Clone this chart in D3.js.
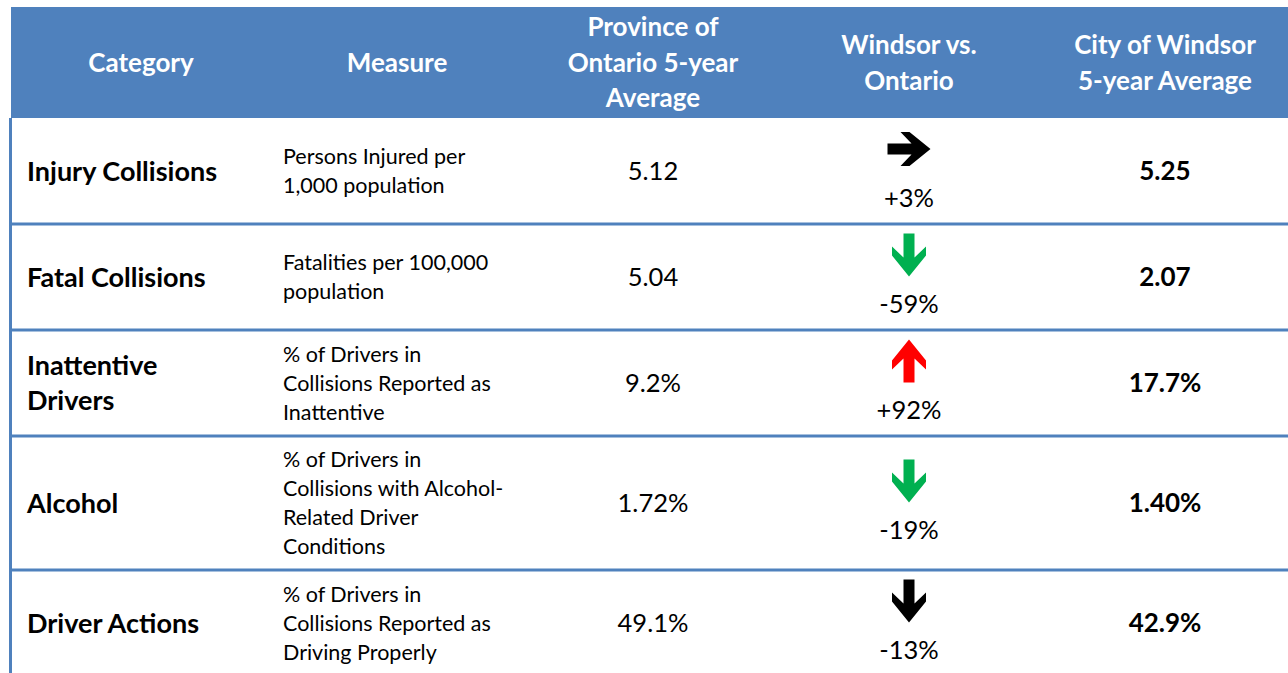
<!DOCTYPE html>
<html>
<head>
<meta charset="utf-8">
<script src="https://cdn.jsdelivr.net/npm/d3@7"></script>
<style>
  body { margin: 0; background: #fff; }
  svg { display: block; font-family: Lato, "Open Sans", sans-serif; }
</style>
</head>
<body>
<svg id="chart" width="1288" height="673"></svg>
<script>
// column headers (each entry = lines of the header cell)
var headers = [
	["Category"],
	["Measure"],
	["Province of", "Ontario 5-year", "Average"],
	["Windsor vs.", "Ontario"],
	["City of Windsor", "5-year Average"]
];

var categories = [
	["Injury Collisions"],
	["Fatal Collisions"],
	["Inattentive", "Drivers"],
	["Alcohol"],
	["Driver Actions"]
];

var measures = [
	["Persons Injured per", "1,000 population"],
	["Fatalities per 100,000", "population"],
	["% of Drivers in", "Collisions Reported as", "Inattentive"],
	["% of Drivers in", "Collisions with Alcohol-", "Related Driver", "Conditions"],
	["% of Drivers in", "Collisions Reported as", "Driving Properly"]
];

var provinceAvg = ["5.12", "5.04", "9.2%", "1.72%", "49.1%"];
var windsorAvg  = ["5.25", "2.07", "17.7%", "1.40%", "42.9%"];
var changes     = ["+3%", "-59%", "+92%", "-19%", "-13%"];
var directions  = ["right", "down", "up", "down", "down"];
var arrowColors = ["#000000", "#00b050", "#ff0000", "#00b050", "#000000"];

var blue = "#4f81bd";
var svg = d3.select("#chart");

var x = d3.scaleBand()
	.domain(d3.range(headers.length))
	.range([13, 1293]);

// row heights grow with the number of measure lines
var headTop = 7, headBottom = 118;
var rowTops = [], y0 = headBottom;
measures.forEach(function(m){
	var h = Math.max(106, m.length*29 + 18);
	rowTops.push({top: y0, h: h});
	y0 += h;
});

//header
svg.append("rect")
	.attr("x", 11)
	.attr("y", headTop)
	.attr("width", 1288 - 11)
	.attr("height", headBottom - headTop)
	.style("fill", blue);

var headMid = (headTop + headBottom)/2;
headers.forEach(function(lines, i){
	var t = svg.append("text")
		.attr("text-anchor", "middle")
		.style("fill", "#fff")
		.style("font-weight", "bold")
		.style("font-size", "26px");
	lines.forEach(function(l, j){
		t.append("tspan")
			.attr("x", x(i) + x.bandwidth()/2)
			.attr("y", headMid + (j - (lines.length-1)/2)*35.5)
			.attr("dy", "0.36em")
			.text(l);
	});
});

//left border + row separators
svg.append("rect")
	.attr("x", 9)
	.attr("y", headBottom)
	.attr("width", 3)
	.attr("height", 673 - headBottom)
	.style("fill", blue);

svg.selectAll(".sep")
	.data(rowTops.slice(1))
	.enter().append("rect")
	.attr("class", "sep")
	.attr("x", 9)
	.attr("y", function(d){ return d.top - 1.5; })
	.attr("width", 1288 - 9)
	.attr("height", 3)
	.style("fill", blue);

function multiLine(g, lines, xPos, cy, spacing, anchor){
	var t = g.append("text").attr("text-anchor", anchor);
	lines.forEach(function(l, j){
		t.append("tspan")
			.attr("x", xPos)
			.attr("y", cy + (j - (lines.length-1)/2)*spacing)
			.attr("dy", "0.36em")
			.text(l);
	});
	return t;
}

// arrow shape, pointing down, centred on 0,0
var arrowPts = [[-5.5,0],[5.5,0],[5.5,24],[17,13],[17,22],[0,43],[-17,22],[-17,13],[-5.5,24]]
	.map(function(p){ return [p[0], p[1] - 21.5]; });
var rot = {down: 0, up: 180, right: -90};

var rows = svg.selectAll(".row")
	.data(rowTops)
	.enter().append("g")
	.attr("class", "row");

rows.each(function(r, i){
	var g = d3.select(this);
	var cy = r.top + r.h/2;

	multiLine(g, categories[i], 27, cy, 35, "start")
		.style("font-weight", "bold")
		.style("font-size", "27px")
		.style("fill", "#000");

	multiLine(g, measures[i], 283, cy, 29, "start")
		.style("font-size", "21.5px")
		.style("fill", "#000");

	multiLine(g, [provinceAvg[i]], x(2) + x.bandwidth()/2, cy, 0, "middle")
		.style("font-size", "25.5px")
		.style("fill", "#000");

	multiLine(g, [windsorAvg[i]], x(4) + x.bandwidth()/2, cy, 0, "middle")
		.style("font-weight", "bold")
		.style("font-size", "26px")
		.style("fill", "#000");

	var ax = x(3) + x.bandwidth()/2;
	g.append("polygon")
		.attr("points", arrowPts.map(function(p){ return p.join(","); }).join(" "))
		.attr("transform", "translate(" + ax + "," + (cy - 22) + ") rotate(" + rot[directions[i]] + ")")
		.style("fill", arrowColors[i]);

	multiLine(g, [changes[i]], ax, cy + 27, 0, "middle")
		.style("font-size", "25.5px")
		.style("fill", "#000");
});
</script>
</body>
</html>
